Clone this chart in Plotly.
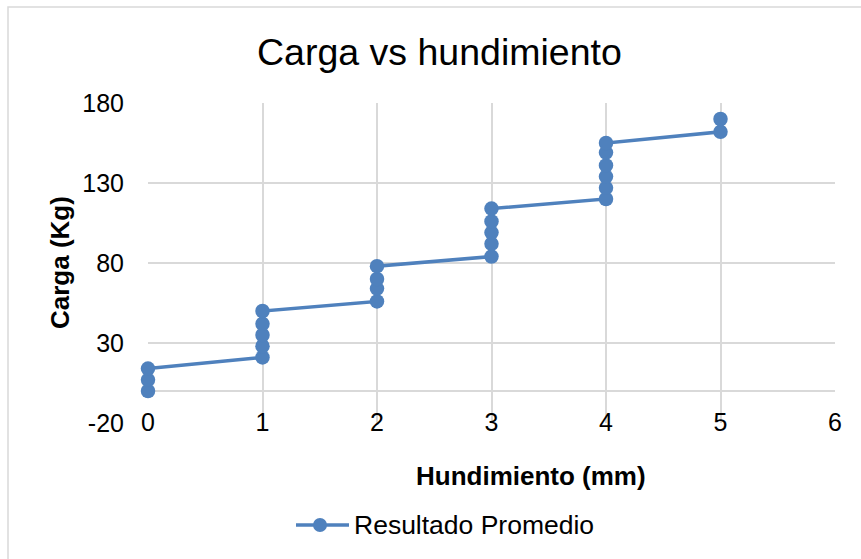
import plotly.graph_objects as go

# Settlement (mm) and averaged load (kg) readings
hundimiento = [0, 0, 0,
               1, 1, 1, 1, 1,
               2, 2, 2, 2,
               3, 3, 3, 3, 3,
               4, 4, 4, 4, 4, 4,
               5, 5]
carga = [0, 7, 14,
         21, 28, 35, 42, 50,
         56, 64, 70, 78,
         84, 92, 99, 106, 114,
         120, 127, 134, 141, 149, 155,
         162, 170]

x_ticks = [0, 1, 2, 3, 4, 5, 6]
y_ticks = [-20, 30, 80, 130, 180]

serie = "Resultado Promedio"
color = "#4f81bd"
grid = "#d9d9d9"
font_family = "Liberation Sans, Arial, sans-serif"

W, H = 861, 559
L, R, T, B = 148, 26, 103, 136
pw, ph = W - L - R, H - T - B


def px_x(p):
    return (p - L) / pw


def px_y(p):
    return (H - B - p) / ph


fig = go.Figure()
fig.add_trace(go.Scatter(
    x=hundimiento, y=carga, mode="lines+markers", name=serie,
    line=dict(color=color, width=3.5),
    marker=dict(color=color, size=14.5),
    showlegend=False,
    cliponaxis=False,
))

fig.update_layout(
    width=W, height=H,
    margin=dict(l=L, r=R, t=T, b=B),
    paper_bgcolor="white", plot_bgcolor="white",
    font=dict(family=font_family, color="#000000"),
    xaxis=dict(
        range=[0, 6], tickvals=x_ticks, ticktext=[str(v) for v in x_ticks],
        showgrid=True, gridcolor=grid, gridwidth=1.5,
        zeroline=False, showline=False, ticks="",
        tickfont=dict(size=25), ticklabelstandoff=-18,
    ),
    yaxis=dict(
        range=[-20, 180], tickvals=y_ticks, ticktext=[str(v) for v in y_ticks],
        showgrid=True, gridcolor=grid, gridwidth=1.5,
        zeroline=True, zerolinecolor=grid, zerolinewidth=1.5,
        showline=False, ticks="",
        tickfont=dict(size=25), ticklabelstandoff=23,
    ),
    showlegend=False,
)

# Chart frame
fig.add_shape(type="rect", xref="paper", yref="paper",
              x0=px_x(8), y0=px_y(620), x1=px_x(920), y1=px_y(7),
              line=dict(color=grid, width=1.5), fillcolor="rgba(0,0,0,0)", layer="below")

# Title and axis titles
fig.add_annotation(text="Carga vs hundimiento", xref="paper", yref="paper",
                   x=px_x(439), y=px_y(52), showarrow=False,
                   xanchor="center", yanchor="middle", font=dict(size=37.5))
fig.add_annotation(text="<b>Hundimiento (mm)</b>", xref="paper", yref="paper",
                   x=px_x(531), y=px_y(476), showarrow=False,
                   xanchor="center", yanchor="middle", font=dict(size=26))
fig.add_annotation(text="<b>Carga (Kg)</b>", xref="paper", yref="paper",
                   x=px_x(60), y=px_y(263), showarrow=False, textangle=-90,
                   xanchor="center", yanchor="middle", font=dict(size=26))

# Legend
fig.add_shape(type="line", xref="paper", yref="paper",
              x0=px_x(296), x1=px_x(349), y0=px_y(525), y1=px_y(525),
              line=dict(color=color, width=3.5))
fig.add_shape(type="circle", xref="paper", yref="paper",
              x0=px_x(313), x1=px_x(327), y0=px_y(518), y1=px_y(532),
              line=dict(color=color, width=0), fillcolor=color)
fig.add_annotation(text=serie, xref="paper", yref="paper",
                   x=px_x(352), y=px_y(525), showarrow=False,
                   xanchor="left", yanchor="middle", font=dict(size=26.5))

fig.write_html("out.html")
